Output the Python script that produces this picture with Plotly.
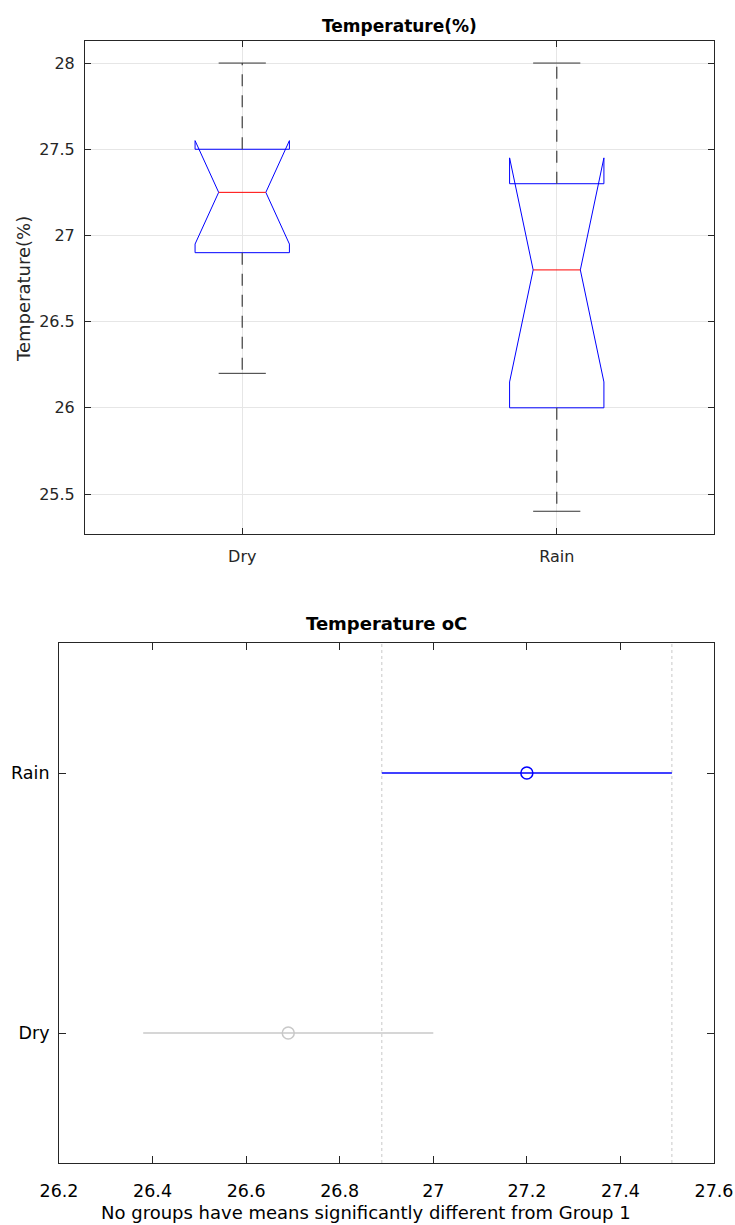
import plotly.graph_objects as go

# ---------------- data ----------------
groups = ["Dry", "Rain"]
box_q1 = [26.9, 26.0]
box_median = [27.25, 26.8]
box_q3 = [27.5, 27.3]
whisker_low = [26.2, 25.4]
whisker_high = [28.0, 28.0]
notch_low = [26.95, 26.15]
notch_high = [27.55, 27.45]

top_yticks = [25.5, 26, 26.5, 27, 27.5, 28]
top_yticklabels = ["25.5", "26", "26.5", "27", "27.5", "28"]

mc_groups = ["Dry", "Rain"]
mc_mean = [26.69, 27.2]
mc_lo = [26.38, 26.89]
mc_hi = [27.0, 27.51]
mc_colors = ["#c8c8c8", "#0000ff"]

bottom_xticks = [26.2, 26.4, 26.6, 26.8, 27.0, 27.2, 27.4, 27.6]
bottom_xticklabels = ["26.2", "26.4", "26.6", "26.8", "27", "27.2", "27.4", "27.6"]

# ---------------- style ----------------
W, H = 735, 1225
FONT = "DejaVu Sans"
AX = "#262626"
GRID = "#e6e6e6"
BOX_HALF = 0.15
NOTCH_HALF = 0.075
CAP_HALF = 0.075


def py(px):
    return 1 - px / H


def pxx(px):
    return px / W


fig = go.Figure()

# ---------------- top: notched boxplot ----------------
for i, g in enumerate(groups):
    c = i + 1
    xs = [c - BOX_HALF, c - BOX_HALF, c - NOTCH_HALF, c - BOX_HALF, c - BOX_HALF,
          c + BOX_HALF, c + BOX_HALF, c + NOTCH_HALF, c + BOX_HALF, c + BOX_HALF,
          c - BOX_HALF]
    ys = [box_q1[i], notch_low[i], box_median[i], notch_high[i], box_q3[i],
          box_q3[i], notch_high[i], box_median[i], notch_low[i], box_q1[i],
          box_q1[i]]
    fig.add_trace(go.Scatter(x=xs, y=ys, mode="lines",
                             line=dict(color="#0000ff", width=1),
                             xaxis="x", yaxis="y", showlegend=False, hoverinfo="skip"))
    # median
    fig.add_trace(go.Scatter(x=[c - NOTCH_HALF, c + NOTCH_HALF],
                             y=[box_median[i], box_median[i]], mode="lines",
                             line=dict(color="#ff0000", width=1),
                             xaxis="x", yaxis="y", showlegend=False))
    # whiskers (dashed)
    fig.add_trace(go.Scatter(x=[c, c, None, c, c],
                             y=[box_q3[i], whisker_high[i], None, box_q1[i], whisker_low[i]],
                             mode="lines",
                             line=dict(color="#4d4d4d", width=1.3, dash="12px,9px"),
                             xaxis="x", yaxis="y", showlegend=False))
    # caps
    fig.add_trace(go.Scatter(x=[c - CAP_HALF, c + CAP_HALF, None, c - CAP_HALF, c + CAP_HALF],
                             y=[whisker_high[i], whisker_high[i], None, whisker_low[i], whisker_low[i]],
                             mode="lines",
                             line=dict(color="#333333", width=1),
                             xaxis="x", yaxis="y", showlegend=False))

# ---------------- bottom: multiple comparison ----------------
rain_idx = mc_groups.index("Rain")
for i, g in enumerate(mc_groups):
    fig.add_trace(go.Scatter(x=[mc_lo[i], mc_hi[i]], y=[i + 1, i + 1], mode="lines",
                             line=dict(color=mc_colors[i], width=1.5),
                             xaxis="x2", yaxis="y2", showlegend=False))
    fig.add_trace(go.Scatter(x=[mc_mean[i]], y=[i + 1], mode="markers",
                             marker=dict(symbol="circle-open", size=12, color=mc_colors[i],
                                         line=dict(width=1.5, color=mc_colors[i])),
                             xaxis="x2", yaxis="y2", showlegend=False))

for xv in [mc_lo[rain_idx], mc_hi[rain_idx]]:
    fig.add_shape(type="line", xref="x2", yref="y2 domain", x0=xv, x1=xv, y0=0, y1=1,
                  line=dict(color="#c8c8c8", width=1, dash="dot"), layer="below")

axis_common = dict(showline=True, linecolor=AX, linewidth=1, mirror="ticks",
                   ticks="inside", tickcolor=AX, zeroline=False, automargin=False)

fig.update_layout(
    width=W, height=H, autosize=False,
    margin=dict(l=0, r=0, t=0, b=0, pad=0, autoexpand=False),
    paper_bgcolor="white", plot_bgcolor="white",
    font=dict(family=FONT, color=AX),
    xaxis=dict(domain=[pxx(85), pxx(714)], anchor="y", range=[0.5, 2.5],
               tickvals=[1, 2], ticktext=groups, showgrid=True, gridcolor=GRID,
               ticklen=6, tickfont=dict(size=16, family=FONT, color=AX),
               ticklabelstandoff=8, **axis_common),
    yaxis=dict(domain=[py(534), py(41)], anchor="x", range=[25.268, 28.128],
               tickvals=top_yticks, ticktext=top_yticklabels, showgrid=True,
               gridcolor=GRID, ticklen=6, tickfont=dict(size=16, family=FONT, color=AX),
               ticklabelstandoff=6, **axis_common),
    xaxis2=dict(domain=[pxx(59), pxx(714)], anchor="y2", range=[26.2, 27.6],
                tickvals=bottom_xticks, ticktext=bottom_xticklabels, showgrid=False,
                ticklen=7, tickfont=dict(size=17.5, family=FONT, color="#000000"),
                ticklabelstandoff=12, **axis_common),
    yaxis2=dict(domain=[py(1163), py(643)], anchor="x2", range=[0.5, 2.5],
                tickvals=[1, 2], ticktext=mc_groups, showgrid=False,
                ticklen=7, tickfont=dict(size=17.5, family=FONT, color="#000000"),
                ticklabelstandoff=5, **axis_common),
)

annotations = [
    dict(text="<b>Temperature(%)</b>", x=(pxx(85) + pxx(714)) / 2, y=py(26),
         font=dict(size=17, family=FONT, color="#000000")),
    dict(text="Temperature(%)", x=pxx(24), y=py(289), textangle=-90,
         font=dict(size=18, family=FONT, color=AX)),
    dict(text="<b>Temperature oC</b>", x=(pxx(59) + pxx(714)) / 2, y=py(623),
         font=dict(size=18, family=FONT, color="#000000")),
    dict(text="No groups have means significantly different from Group 1",
         x=pxx(366), y=py(1212),
         font=dict(size=18, family=FONT, color="#000000")),
]
for a in annotations:
    a.update(xref="paper", yref="paper", showarrow=False, xanchor="center", yanchor="middle")
fig.update_layout(annotations=annotations)

fig.write_html("out.html",
               config={"displayModeBar": False},
               post_script="document.body.style.margin='0';document.body.style.overflow='hidden';")
